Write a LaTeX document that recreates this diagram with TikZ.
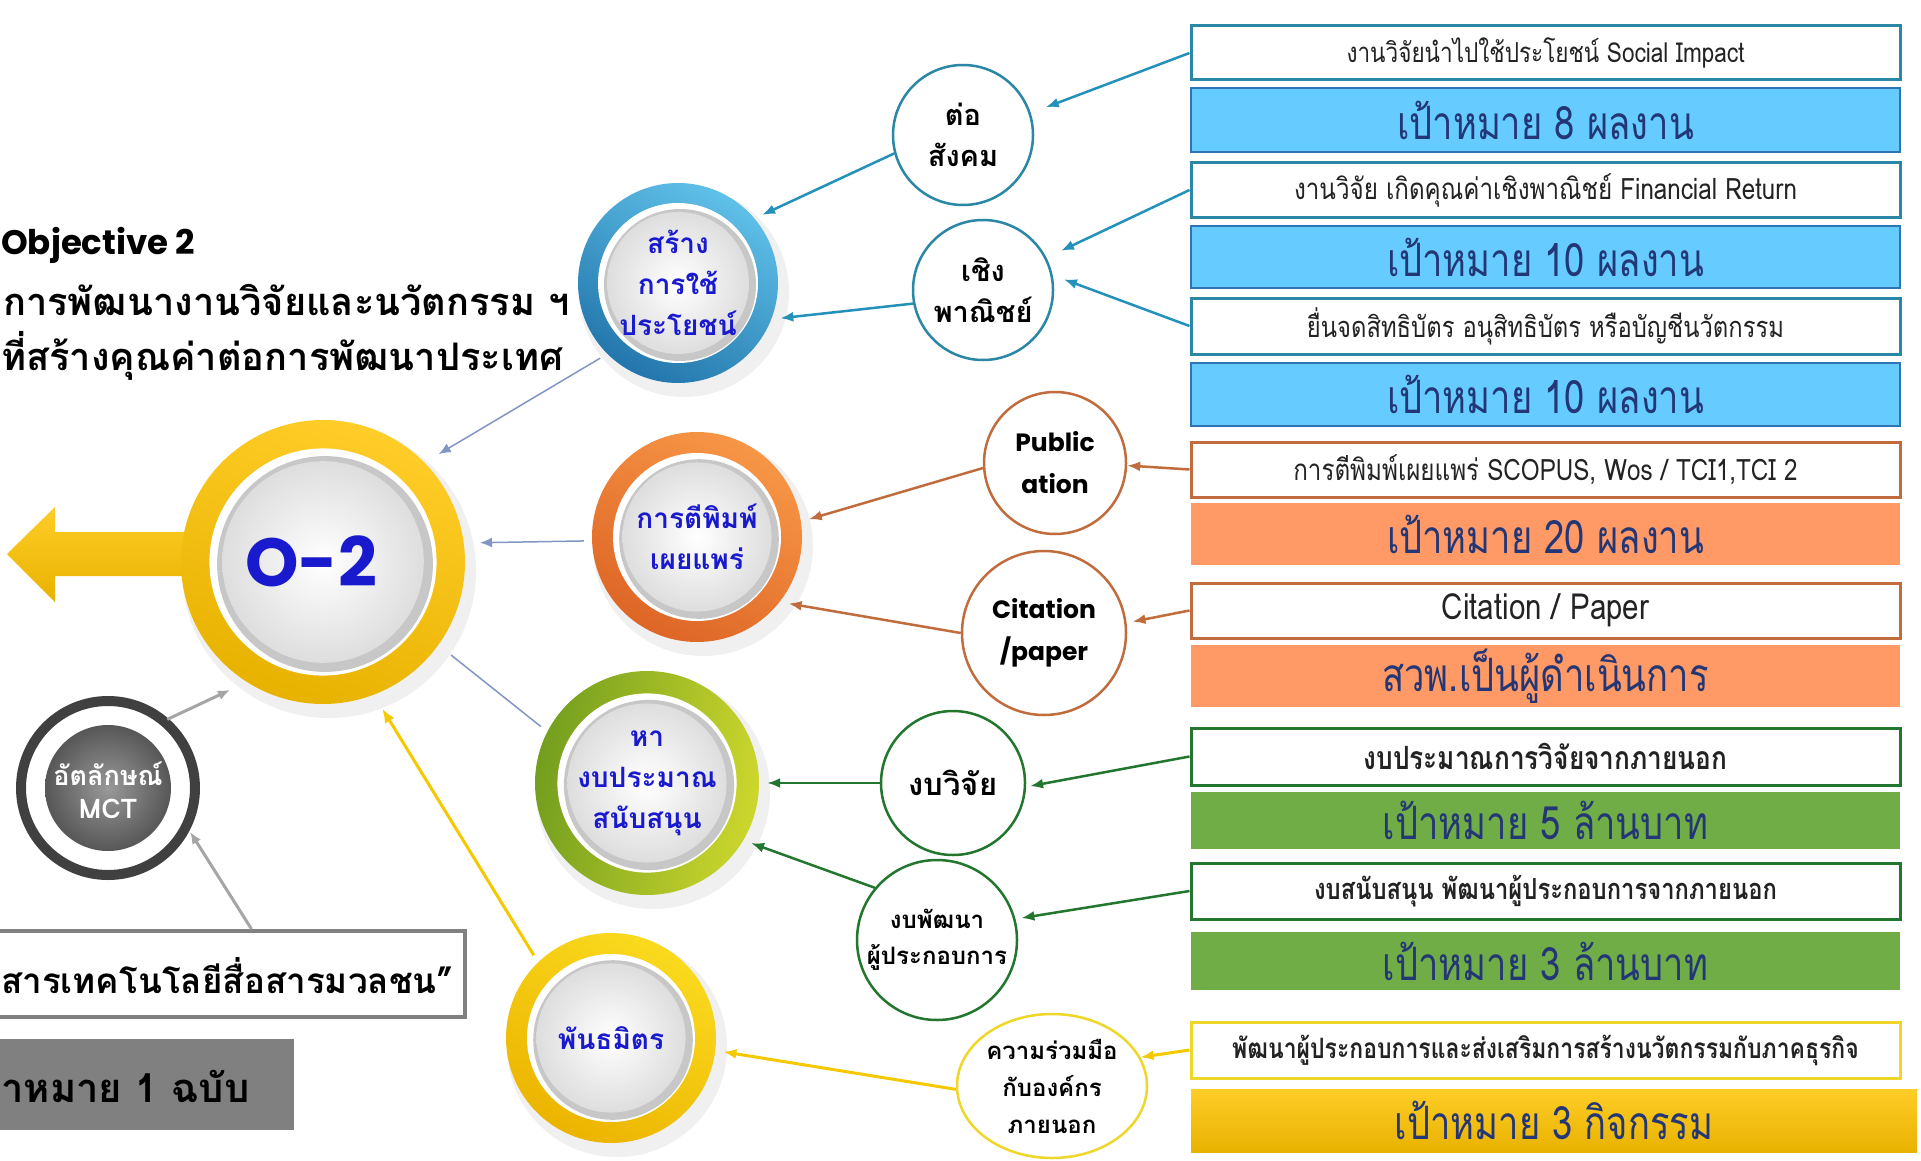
\documentclass[tikz,border=0pt]{standalone}
\usepackage{fontspec}
\usetikzlibrary{arrows.meta,shapes.geometric,calc}
\setmainfont{Loma}[Script=Thai]
\newfontfamily\thai{Loma}[Script=Thai]
\newfontfamily\thainar{Loma}[Script=Thai,FakeStretch=0.82]
\newfontfamily\thaitgt{Loma}[Script=Thai,FakeStretch=0.79]
\newfontfamily\pop{Poppins}
\definecolor{cblue}{RGB}{102,204,255}
\definecolor{cblueB}{RGB}{47,117,181}
\definecolor{cteal}{RGB}{42,135,165}
\definecolor{carrb}{RGB}{35,145,185}
\definecolor{navy}{RGB}{35,55,118}
\definecolor{txtgray}{RGB}{35,35,35}
\definecolor{corange}{RGB}{255,153,102}
\definecolor{cbrown}{RGB}{192,108,60}
\definecolor{cgreen}{RGB}{112,173,71}
\definecolor{cdgreen}{RGB}{35,118,45}
\definecolor{cyel}{RGB}{238,215,40}
\definecolor{cyelA}{RGB}{245,200,0}
\definecolor{cgoldL}{RGB}{255,205,40}
\definecolor{cgoldD}{RGB}{232,178,0}
\definecolor{ctxt}{RGB}{25,25,205}
\definecolor{cgray}{RGB}{128,128,128}
\definecolor{cdark}{RGB}{64,64,64}
\definecolor{cline}{RGB}{130,150,195}
\definecolor{cgrayA}{RGB}{165,165,165}
\definecolor{rbL}{RGB}{95,192,232}
\definecolor{rbD}{RGB}{35,118,172}
\definecolor{roL}{RGB}{247,150,70}
\definecolor{roD}{RGB}{222,102,38}
\definecolor{rgL}{RGB}{205,215,45}
\definecolor{rgD}{RGB}{115,158,30}
\definecolor{ryL}{RGB}{250,218,30}
\definecolor{ryD}{RGB}{236,180,0}
\newcommand{\bigring}[6]{% x,y,r,light,dark,angle
  \fill[black!6] (#1+6,#2+9) circle[radius=#3pt+5pt];
  \shade[top color=#4, bottom color=#5, shading angle=#6] (#1,#2) circle[radius=#3pt];
  \fill[white] (#1,#2) circle[radius=0.8*#3pt];
  \fill[black!22] (#1+2,#2+2) circle[radius=0.76*#3pt];
  \shade[inner color=white, outer color=black!13] (#1,#2) circle[radius=0.71*#3pt];
}
\tikzset{
  wbox/.style={draw=#1, line width=3pt, fill=white, minimum width=709pt, minimum height=55pt, inner sep=0pt, text=txtgray},
  tgtbox/.style={fill=#1, minimum width=709pt, minimum height=63pt, inner sep=0pt, text=navy, font=\thaitgt\fontsize{46}{50}\selectfont},
  scirc/.style={circle, draw=#1, line width=2.5pt, fill=white, inner sep=0pt, align=center, text=black, font=\thai\bfseries\fontsize{29}{41}\selectfont},
  bigtxt/.style={circle, inner sep=0pt, align=center, text=ctxt, font=\thai\bfseries\fontsize{28}{41}\selectfont},
  arr/.style={draw=#1, line width=2.5pt, -{Latex[length=13pt,width=10pt]}},
  thinarr/.style={draw=#1, line width=1.5pt, -{Latex[length=12pt,width=10pt]}},
}
\begin{document}
\begin{tikzpicture}[x=1pt,y=-1pt]
\useasboundingbox (0,0) rectangle (1921,1161);
\clip (0,0) rectangle (1921,1161);
\fill[white] (0,0) rectangle (1921,1161);

% heading
\node[anchor=west, inner sep=0pt, font=\pop\bfseries\fontsize{34}{40}\selectfont] (obj) at (1,245) {Objective 2};
\node[anchor=west, inner sep=0pt, font=\thai\bfseries\fontsize{38}{44}\selectfont] (h2) at (3,300) {การพัฒนางานวิจัยและนวัตกรรม ฯ};
\node[anchor=west, inner sep=0pt, font=\thai\bfseries\fontsize{38}{44}\selectfont] (h3) at (1,356) {ที่สร้างคุณค่าต่อการพัฒนาประเทศ};

% left yellow arrow
\shade[top color=cgoldL, bottom color=cgoldD] (200,532) -- (55,532) -- (55,507) -- (7,554) -- (55,602) -- (55,576) -- (200,576) -- cycle;

% big rings
\bigring{323}{562}{142}{cgoldL}{cgoldD}{-20}
\bigring{678}{283}{100}{rbL}{rbD}{-30}
\bigring{697}{537}{105}{roL}{roD}{-30}
\bigring{647}{783}{112}{rgL}{rgD}{-100}
\bigring{611}{1038}{105}{ryL}{ryD}{-30}

\node[circle, minimum size=316pt, inner sep=0pt] (O2) at (323,562) {};
\node[inner sep=0pt, text=ctxt, font=\pop\bfseries\fontsize{68}{68}\selectfont] (O2t) at (311,561) {O-2};
\node[bigtxt, minimum size=216pt] (srang) at (678,283) {สร้าง\\การใช้\\ประโยชน์};
\node[bigtxt, minimum size=226pt] (kt) at (697,537) {การตีพิมพ์\\เผยแพร่};
\node[bigtxt, minimum size=240pt] (ha) at (647,783) {หา\\งบประมาณ\\สนับสนุน};
\node[bigtxt, minimum size=226pt] (pt) at (611,1038) {พันธมิตร};

% MCT
\draw[cdark, line width=10pt, fill=white] (108,788) circle[radius=87pt];
\shade[inner color=black!40, outer color=black!66] (108,788) circle[radius=63pt];
\node[circle, minimum size=184pt, inner sep=0pt, align=center, text=white, font=\thai\bfseries\fontsize{27}{33}\selectfont] (mct) at (108,790) {อัตลักษณ์\\MCT};

% bottom-left boxes
\node[draw=cgray, line width=4pt, fill=white, minimum width=475pt, minimum height=86pt, inner sep=0pt] (tbox) at (227.5,974) {};
\node[anchor=east, inner sep=0pt, font=\thai\bfseries\fontsize{35}{40}\selectfont] (tboxt) at (454,976) {สารเทคโนโลยีสื่อสารมวลชน”};
\node[fill=cgray, minimum width=304pt, minimum height=91pt, inner sep=0pt] (gbox) at (142,1084.5) {};
\node[anchor=west, inner sep=0pt, font=\thai\bfseries\fontsize{40}{44}\selectfont] (gboxt) at (1,1086) {าหมาย 1 ฉบับ};

% small circles
\node[scirc=cteal, minimum size=140pt] (tor) at (963,135) {ต่อ\\สังคม};
\node[scirc=cteal, minimum size=140pt] (chg) at (983,290) {เชิง\\พาณิชย์};
\node[scirc=cbrown, minimum size=142pt, font=\pop\bfseries\fontsize{25}{42}\selectfont] (pub) at (1055,463) {Public\\ation};
\node[scirc=cbrown, minimum size=164pt, font=\pop\bfseries\fontsize{25}{42}\selectfont] (cit) at (1044,633) {Citation\\/paper};
\node[scirc=cdgreen, minimum size=144pt, font=\thai\bfseries\fontsize{31}{41}\selectfont] (nbv) at (953,783) {งบวิจัย};
\node[scirc=cdgreen, minimum size=160pt, font=\thai\bfseries\fontsize{24}{36}\selectfont] (nbp) at (937,940) {งบพัฒนา\\ผู้ประกอบการ};
\node[ellipse, draw=cyel, line width=2.5pt, fill=white, inner sep=0pt, minimum width=190pt, minimum height=144pt, align=center, font=\thai\bfseries\fontsize{24}{37}\selectfont] (kr) at (1052,1086) {ความร่วมมือ\\กับองค์กร\\ภายนอก};

% right boxes
\node[wbox=cteal, minimum height=54pt, font=\thainar\fontsize{27.5}{30}\selectfont] (b1) at (1545.5,53) {งานวิจัยนำไปใช้ประโยชน์ Social Impact};
\node[tgtbox=cblue, draw=cblueB, line width=2pt, minimum height=64pt] (g1) at (1545.5,120) {เป้าหมาย 8 ผลงาน};
\node[wbox=cteal, minimum height=54pt, font=\thainar\fontsize{29.5}{32}\selectfont] (b2) at (1545.5,190) {งานวิจัย เกิดคุณค่าเชิงพาณิชย์ Financial Return};
\node[tgtbox=cblue, draw=cblueB, line width=2pt, minimum height=62pt] (g2) at (1545.5,257) {เป้าหมาย 10 ผลงาน};
\node[wbox=cteal, minimum height=56pt, font=\thainar\fontsize{29}{32}\selectfont] (b3) at (1545.5,326) {ยื่นจดสิทธิบัตร อนุสิทธิบัตร หรือบัญชีนวัตกรรม};
\node[tgtbox=cblue, draw=cblueB, line width=2pt, minimum height=63pt] (g3) at (1545.5,394.5) {เป้าหมาย 10 ผลงาน};
\node[wbox=cbrown, minimum height=55pt, font=\thainar\fontsize{29.5}{32}\selectfont] (b4) at (1545.5,469.5) {การตีพิมพ์เผยแพร่ SCOPUS, Wos / TCI1,TCI 2};
\node[tgtbox=corange, minimum height=62pt] (g4) at (1545.5,534) {เป้าหมาย 20 ผลงาน};
\node[wbox=cbrown, minimum height=55pt, font=\thainar\fontsize{36}{38}\selectfont] (b5) at (1545.5,610.5) {Citation / Paper};
\node[tgtbox=corange, minimum height=62pt] (g5) at (1545.5,676) {สวพ.เป็นผู้ดำเนินการ};
\node[wbox=cdgreen, minimum height=57pt, font=\thainar\bfseries\fontsize{32}{34}\selectfont] (b6) at (1545.5,756.5) {งบประมาณการวิจัยจากภายนอก};
\node[tgtbox=cgreen, minimum height=57pt] (g6) at (1545.5,820.5) {เป้าหมาย 5 ล้านบาท};
\node[wbox=cdgreen, minimum height=56pt, font=\thainar\bfseries\fontsize{29}{32}\selectfont] (b7) at (1545.5,891) {งบสนับสนุน พัฒนาผู้ประกอบการจากภายนอก};
\node[tgtbox=cgreen, minimum height=58pt] (g7) at (1545.5,961) {เป้าหมาย 3 ล้านบาท};
\node[wbox=cyel, minimum height=56pt, font=\thainar\bfseries\fontsize{28}{32}\selectfont] (b8) at (1545.5,1050) {พัฒนาผู้ประกอบการและส่งเสริมการสร้างนวัตกรรมกับภาคธุรกิจ};
\shade[top color=cgoldL, bottom color=cgoldD] (1191,1089) rectangle (1917,1152);
\node[minimum width=726pt, minimum height=63pt, inner sep=0pt, text=navy, font=\thaitgt\fontsize{46}{50}\selectfont] (g8) at (1554,1120.5) {เป้าหมาย 3 กิจกรรม};

% connectors: boxes -> small circles
\draw[arr=carrb, shorten >=16pt] (b1.west) -- (tor.18);
\draw[arr=carrb, shorten >=16pt] (b2.west) -- (chg.27);
\draw[arr=carrb, shorten >=12pt] (b3.west) -- (chg.12);
\draw[arr=cbrown] (b4.west) -- (pub.-2);
\draw[arr=cbrown, shorten >=6pt] (b5.west) -- (cit.7);
\draw[arr=cdgreen, shorten >=4pt] (b6.west) -- (nbv.-3);
\draw[arr=cdgreen, shorten >=6pt] (b7.west) -- (nbp.15);
\draw[arr=cyelA, line width=3pt] (b8.west) -- (kr.18);

% small circles -> big circles
\draw[arr=carrb] (tor.195) -- (srang.39);
\draw[arr=carrb] (chg.191) -- (srang.-19);
\draw[arr=cbrown] (pub.184) -- (kt.9);
\draw[arr=cbrown] (cit.180) -- (kt.-36);
\draw[arr=cdgreen] (nbv.180) -- (ha.0);
\draw[arr=cdgreen] (nbp.140) -- (ha.-30);
\draw[arr=cyelA, line width=3pt] (kr.182) -- (pt.-7);

% big circles -> O-2
\draw[thinarr=cline] (srang.224) -- (O2.43);
\draw[thinarr=cline] (kt.182) -- (O2.7);
\draw[draw=cline, line width=1.5pt] (ha.152) -- (O2.-36);
\draw[draw=cyelA, line width=3pt, -{Latex[length=14pt,width=11pt]}] (pt.133) -- (O2.-68);

% gray arrows
\draw[thinarr=cgrayA, line width=3pt] (mct.50) -- (O2.234);
\draw[thinarr=cgrayA, line width=3pt] ($(tbox.north west)!0.55!(tbox.north east)$) -- (mct.-27);
\end{tikzpicture}
\end{document}
